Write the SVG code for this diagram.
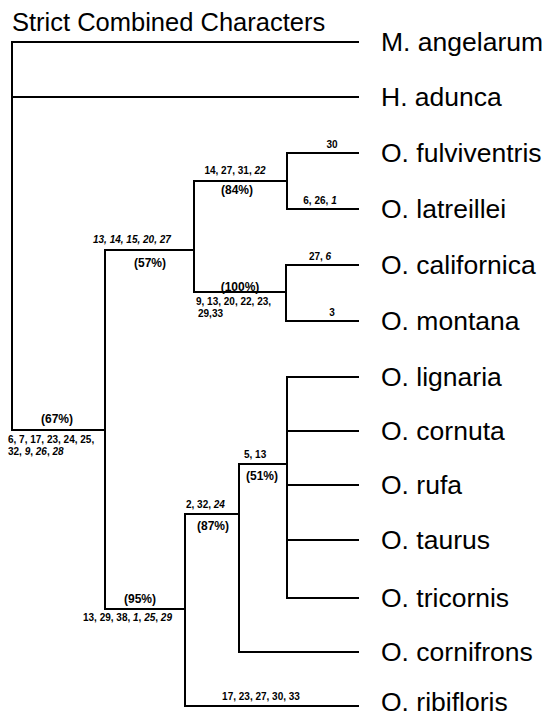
<svg xmlns="http://www.w3.org/2000/svg" width="551" height="717" viewBox="0 0 551 717">
<style>
.ln{stroke:#000;stroke-width:2;fill:none;stroke-linecap:square}
.title{font-family:"Liberation Sans",Arial,sans-serif;font-size:25.5px;fill:#000}
.leaf{font-family:"Liberation Sans",Arial,sans-serif;font-size:26.5px;fill:#000}
.ch{font-family:"Liberation Sans",Arial,sans-serif;font-size:10px;font-weight:bold;fill:#000}
.pc{font-family:"Liberation Sans",Arial,sans-serif;font-size:12px;font-weight:bold;fill:#000}
.i{font-style:italic}
</style>
<rect width="551" height="717" fill="#fff"/>
<text class="title" x="12" y="31">Strict Combined Characters</text>
<g id="connectors">
<path class="ln" d="M12,42V430H105M12,42H358M12,97H358"/>
<path class="ln" d="M105,250V609M105,250H194M105,609H185"/>
<path class="ln" d="M194,181V292M194,181H287M194,292H286"/>
<path class="ln" d="M287,153V209M287,153H358M287,209H358"/>
<path class="ln" d="M286,265V321M286,265H358M286,321H358"/>
<path class="ln" d="M185,514V706M185,514H239M185,706H358"/>
<path class="ln" d="M239,464V652M239,464H287M239,652H358"/>
<path class="ln" d="M287,377V598M287,377H358M287,431H358M287,485H358M287,540H358M287,598H358"/>
</g>
<g id="node-root">
<text class="pc" x="57" y="423" text-anchor="middle">(67%)</text>
<text class="ch" x="8" y="443">6, 7, 17, 23, 24, 25,</text>
<text class="ch" x="8" y="455">32, <tspan class="i">9</tspan>, <tspan class="i">26</tspan>, <tspan class="i">28</tspan></text>
</g>
<g id="node-57">
<text class="ch i" x="93" y="243">13, 14, 15, 20, 27</text>
<text class="pc" x="150" y="267" text-anchor="middle">(57%)</text>
</g>
<g id="node-84">
<text class="ch" x="235" y="174" text-anchor="middle">14, 27, 31, <tspan class="i">22</tspan></text>
<text class="pc" x="237" y="194" text-anchor="middle">(84%)</text>
</g>
<g id="node-100">
<text class="pc" x="240" y="291" text-anchor="middle">(100%)</text>
<text class="ch" x="196" y="305">9, 13, 20, 22, 23,</text>
<text class="ch" x="198" y="317">29,33</text>
</g>
<g id="node-95">
<text class="pc" x="140" y="603" text-anchor="middle">(95%)</text>
<text class="ch" x="83" y="621">13, 29, 38, <tspan class="i">1</tspan>, <tspan class="i">25</tspan>, <tspan class="i">29</tspan></text>
</g>
<g id="node-87">
<text class="ch" x="186" y="508">2, 32, <tspan class="i">24</tspan></text>
<text class="pc" x="213" y="530" text-anchor="middle">(87%)</text>
</g>
<g id="node-51">
<text class="ch" x="244" y="458">5, 13</text>
<text class="pc" x="262" y="480" text-anchor="middle">(51%)</text>
</g>
<g id="leaf-angelarum"><text class="leaf" x="381" y="51">M. angelarum</text></g>
<g id="leaf-adunca"><text class="leaf" x="381" y="106">H. adunca</text></g>
<g id="leaf-fulviventris"><text class="ch" x="332" y="148" text-anchor="middle">30</text><text class="leaf" x="381" y="162">O. fulviventris</text></g>
<g id="leaf-latreillei"><text class="ch" x="320" y="204" text-anchor="middle">6, 26, <tspan class="i">1</tspan></text><text class="leaf" x="381" y="218">O. latreillei</text></g>
<g id="leaf-californica"><text class="ch" x="320" y="260" text-anchor="middle">27, <tspan class="i">6</tspan></text><text class="leaf" x="381" y="274">O. californica</text></g>
<g id="leaf-montana"><text class="ch" x="332" y="316" text-anchor="middle">3</text><text class="leaf" x="381" y="330">O. montana</text></g>
<g id="leaf-lignaria"><text class="leaf" x="381" y="386">O. lignaria</text></g>
<g id="leaf-cornuta"><text class="leaf" x="381" y="440">O. cornuta</text></g>
<g id="leaf-rufa"><text class="leaf" x="381" y="494">O. rufa</text></g>
<g id="leaf-taurus"><text class="leaf" x="381" y="549">O. taurus</text></g>
<g id="leaf-tricornis"><text class="leaf" x="381" y="607">O. tricornis</text></g>
<g id="leaf-cornifrons"><text class="leaf" x="381" y="661">O. cornifrons</text></g>
<g id="leaf-ribifloris"><text class="ch" x="261" y="700" text-anchor="middle">17, 23, 27, 30, 33</text><text class="leaf" x="381" y="711">O. ribifloris</text></g>
</svg>
